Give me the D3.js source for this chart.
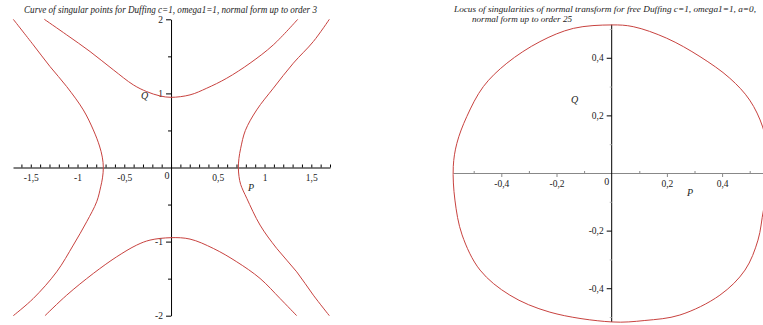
<!DOCTYPE html>
<html><head><meta charset="utf-8">
<script src="https://cdn.jsdelivr.net/npm/d3@7"></script>
<style>
body{margin:0;background:#fff}
svg text{font-family:"Liberation Serif","DejaVu Serif",serif;fill:#222}
</style>
</head><body><svg id="c" width="763" height="325"></svg>
<script>
// ---------- texts ----------
const leftTitle = "Curve of singular points for Duffing c=1, omega1=1, normal form up to order 3";
const rightTitle1 = "Locus of singularities of normal transform  for free Duffing c=1, omega1=1,  a=0,";
const rightTitle2 = "normal form up to order 25";

// ---------- tick labels ----------
const leftXTicks = [-1.5, -1, -0.5, 0.5, 1, 1.5];
const leftYTicks = [-2, -1, 1, 2];
const rightXTicks = [-0.4, -0.2, 0.2, 0.4];
const rightYTicks = [-0.4, -0.2, 0.2, 0.4];

// ---------- left panel curves [P, Q] ----------
const leftSideBranch = [[-1.687,2.0],[-1.473,1.655],[-1.294,1.362],[-1.116,1.092],[-0.938,0.777],[-0.831,0.507],[-0.765,0.29],[-0.735,0.14],[-0.724,0.0],[-0.733,-0.14],[-0.752,-0.26],[-0.795,-0.462],[-0.902,-0.732],[-1.045,-1.047],[-1.223,-1.408],[-1.473,-1.768],[-1.687,-2.0]];
const rightSideBranch = [[1.693,2.0],[1.522,1.7],[1.308,1.408],[1.094,1.07],[0.916,0.777],[0.795,0.5],[0.745,0.26],[0.726,0.12],[0.72,0.0],[0.727,-0.12],[0.745,-0.23],[0.81,-0.416],[0.952,-0.777],[1.13,-1.092],[1.344,-1.408],[1.522,-1.723],[1.693,-2.0]];
const topBranch = [[-1.355,2.0],[-1.116,1.79],[-0.866,1.565],[-0.617,1.318],[-0.403,1.115],[-0.26,1.024],[-0.118,0.966],[0,0.947],[0.203,0.98],[0.382,1.07],[0.596,1.205],[0.845,1.408],[1.094,1.655],[1.355,2.0]];
const bottomBranch = [[-1.348,-2.0],[-1.116,-1.723],[-0.831,-1.43],[-0.581,-1.205],[-0.367,-1.047],[-0.225,-0.98],[0,-0.947],[0.203,-0.966],[0.452,-1.092],[0.703,-1.273],[0.952,-1.497],[1.166,-1.768],[1.344,-2.0]];

// ---------- right panel closed locus [P, Q] ----------
const locus = [[0,0.514],[0.078,0.508],[0.199,0.468],[0.32,0.404],[0.428,0.329],[0.5,0.253],[0.547,0.16],[0.568,0.06],[0.573,-0.03],[0.55,-0.128],[0.53,-0.233],[0.483,-0.337],[0.392,-0.424],[0.247,-0.493],[0.12,-0.512],[0,-0.517],[-0.224,-0.483],[-0.369,-0.424],[-0.477,-0.337],[-0.542,-0.215],[-0.568,-0.094],[-0.574,0.022],[-0.561,0.103],[-0.525,0.196],[-0.465,0.3],[-0.38,0.381],[-0.26,0.456],[-0.139,0.502]];

const svg = d3.select("#c");
const RED = "#c8423f";
const fmt = v => d3.format("")(+v.toFixed(2)).replace(".", ",").replace("−","-");

// ================= LEFT PANEL =================
const xL = d3.scaleLinear().domain([-1.69, 1.70]).range([13, 330]);
const yL = d3.scaleLinear().domain([-2, 2]).range([315.7, 19.3]);

// x axis
const gxL = svg.append("g").attr("transform", `translate(0,${yL(0)})`);
gxL.call(d3.axisBottom(xL).tickValues(d3.range(-16, 18).map(d => d / 10)).tickSize(-3).tickSizeOuter(0).tickFormat(""));
gxL.append("g").call(d3.axisBottom(xL).tickValues(leftXTicks).tickSize(0).tickPadding(7).tickFormat(fmt))
   .call(g => g.select(".domain").remove());
svg.append("text").attr("x", xL(0) - 4).attr("y", yL(0) + 11).attr("text-anchor", "middle").attr("font-size", 10).text("0");

// y axis
const gyL = svg.append("g").attr("transform", `translate(${xL(0)},0)`);
gyL.call(d3.axisLeft(yL).tickValues([-1.5, -0.5, 0.5, 1.5]).tickSize(3).tickSizeOuter(0).tickFormat(""));
gyL.append("g").call(d3.axisLeft(yL).tickValues(leftYTicks).tickSize(5).tickPadding(3).tickFormat(fmt))
   .call(g => g.select(".domain").remove());

// curves
const lineL = d3.line().x(d => xL(d[0])).y(d => yL(d[1])).curve(d3.curveCatmullRom.alpha(0.5));
[leftSideBranch, rightSideBranch, topBranch, bottomBranch].forEach(c => {
  svg.append("path").datum(c).attr("d", lineL).attr("fill", "none").attr("stroke", RED).attr("stroke-width", 1);
});

// labels
svg.append("text").attr("x", 248).attr("y", 191).attr("font-size", 10).attr("font-style", "italic").text("P");
svg.append("text").attr("x", 141).attr("y", 99).attr("font-size", 10).attr("font-style", "italic").text("Q");
svg.append("text").attr("x", 24).attr("y", 13).attr("font-size", 9.5).attr("font-style", "italic")
   .attr("textLength", 293).attr("lengthAdjust", "spacingAndGlyphs").text(leftTitle);

// ================= RIGHT PANEL =================
const xR = d3.scaleLinear().domain([-0.575, 0.575]).range([453, 770.4]);
const yR = d3.scaleLinear().domain([-0.52, 0.52]).range([322.8, 23.2]);

const gxR = svg.append("g").attr("transform", `translate(0,${yR(0)})`);
gxR.call(d3.axisBottom(xR).tickValues([-0.5, -0.3, -0.1, 0.1, 0.3, 0.5]).tickSize(-2).tickSizeOuter(0).tickFormat(""));
gxR.append("g").call(d3.axisBottom(xR).tickValues(rightXTicks).tickSize(4).tickPadding(3).tickFormat(fmt))
   .call(g => g.select(".domain").remove());
gxR.selectAll(".domain").attr("stroke", "#888");
gxR.selectAll(".tick line").attr("stroke", "#888");
svg.append("text").attr("x", xR(0) - 5).attr("y", yR(0) + 12).attr("text-anchor", "middle").attr("font-size", 10).text("0");

const gyR = svg.append("g").attr("transform", `translate(${xR(0)},0)`);
gyR.call(d3.axisLeft(yR).tickValues([-0.5, -0.3, -0.1, 0.1, 0.3, 0.5]).tickSize(2).tickSizeOuter(0).tickFormat(""));
gyR.selectAll(".tick line").attr("stroke", "#bbb");
gyR.append("g").call(d3.axisLeft(yR).tickValues(rightYTicks).tickSize(5).tickPadding(3).tickFormat(fmt))
   .call(g => g.select(".domain").remove());
gyR.select(".domain").attr("d", `M0,${yR(0.515)}V${yR(-0.517)}`);

const lineR = d3.line().x(d => xR(d[0])).y(d => yR(d[1])).curve(d3.curveCatmullRomClosed.alpha(0.5));
svg.append("path").datum(locus).attr("d", lineR).attr("fill", "none").attr("stroke", RED).attr("stroke-width", 1);

svg.append("text").attr("x", 687).attr("y", 196).attr("font-size", 10).attr("font-style", "italic").text("P");
svg.append("text").attr("x", 571).attr("y", 103).attr("font-size", 10).attr("font-style", "italic").text("Q");
svg.append("text").attr("x", 454).attr("y", 11.5).attr("font-size", 9).attr("font-style", "italic")
   .attr("textLength", 302).attr("lengthAdjust", "spacingAndGlyphs").text(rightTitle1);
svg.append("text").attr("x", 472).attr("y", 22).attr("font-size", 9).attr("font-style", "italic")
   .attr("textLength", 100).attr("lengthAdjust", "spacingAndGlyphs").text(rightTitle2);

svg.selectAll(".tick text").attr("font-family", null).attr("font-size", 9.5).attr("fill", "#222");
</script>
</body></html>
